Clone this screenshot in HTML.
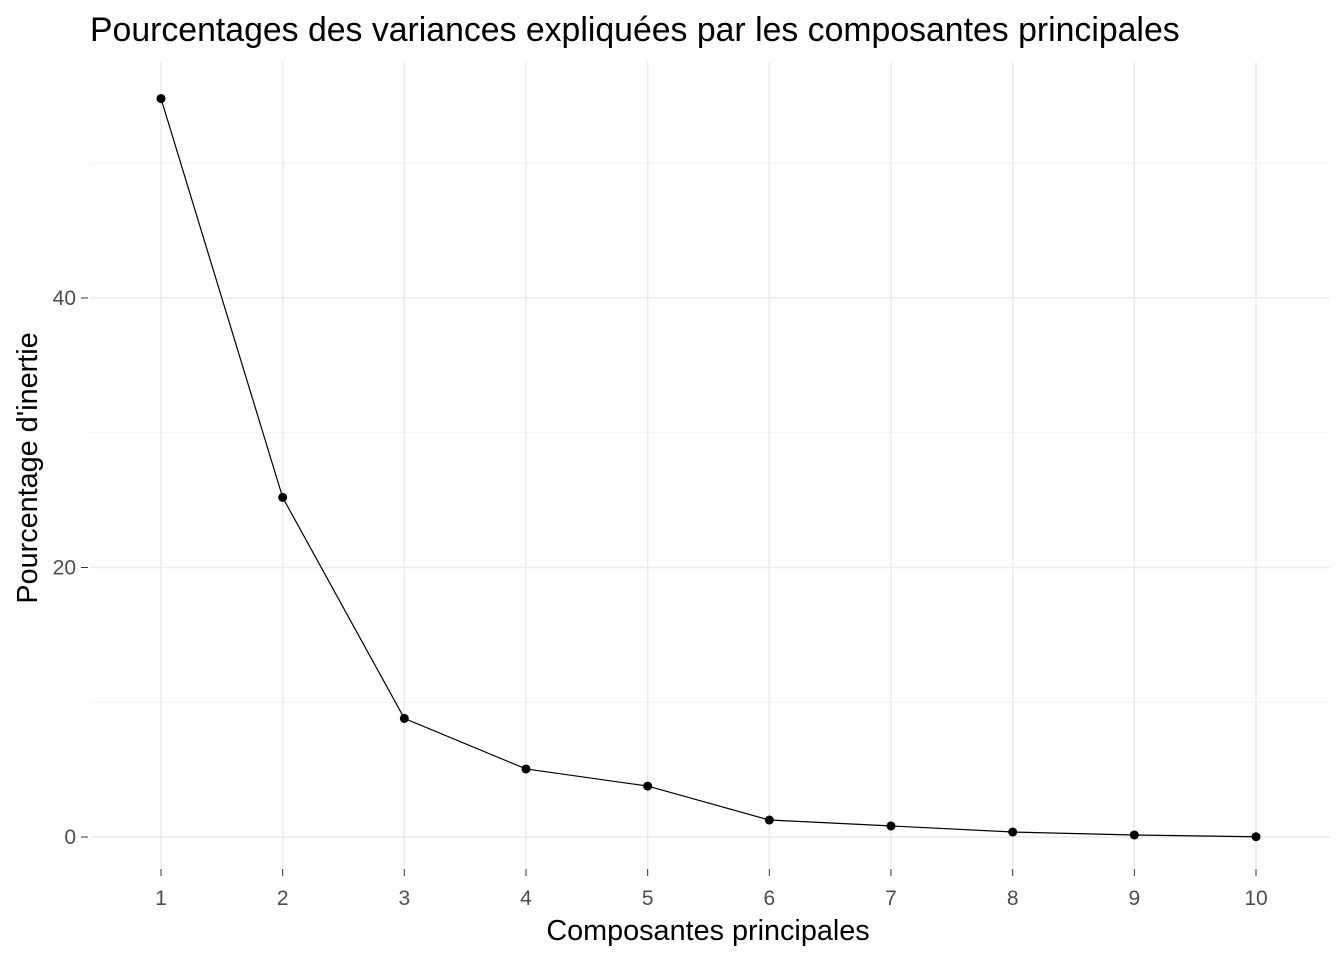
<!DOCTYPE html>
<html><head><meta charset="utf-8"><style>
html,body{margin:0;padding:0;background:#fff}
svg{display:block;font-family:"Liberation Sans",Arial,sans-serif}
</style></head><body>
<svg id="chart" width="1344" height="960">
<text x="90" y="41" font-size="33.8" fill="#000">Pourcentages des variances expliquées par les composantes principales</text>
<g id="grid"></g><g id="axes"></g><g id="series"></g>
<text x="708" y="940" font-size="28.8" text-anchor="middle" fill="#000">Composantes principales</text>
<text transform="translate(37,468) rotate(-90)" font-size="28.8" text-anchor="middle" fill="#000">Pourcentage d'inertie</text>
</svg>
<script>
const components = [1,2,3,4,5,6,7,8,9,10];
const variances = [54.8,25.2,8.8,5.05,3.78,1.26,0.82,0.37,0.15,0.02];
const yTicks = [0,20,40];
const yMinor = [10,30,50];
const NS='http://www.w3.org/2000/svg';
const L=90,R=1330,T=62,B=867;
function xs(v){return 161+(v-1)*(1256-161)/9;}
function ys(v){return 837-v*(837-298)/40;}
function mk(tag,attrs,parent){const e=document.createElementNS(NS,tag);for(const k in attrs)e.setAttribute(k,attrs[k]);parent.appendChild(e);return e;}
const grid=document.getElementById('grid'),axes=document.getElementById('axes'),series=document.getElementById('series');
yMinor.forEach(v=>{const l=mk('line',{x1:L,x2:R,y1:ys(v),y2:ys(v),stroke:'#f2f2f2','stroke-width':1},grid);

});
yTicks.forEach(v=>{const l=mk('line',{x1:L,x2:R,y1:ys(v),y2:ys(v),stroke:'#ebebeb','stroke-width':1.5},grid);


const t=mk('line',{x1:81,x2:88,y1:ys(v),y2:ys(v),stroke:'#333','stroke-width':1},axes);


const tx=mk('text',{x:76,y:ys(v)+7,'font-size':21,'text-anchor':'end',fill:'#4d4d4d'},axes);tx.textContent=v;

});
components.forEach(c=>{const l=mk('line',{x1:xs(c),x2:xs(c),y1:T,y2:B,stroke:'#ebebeb','stroke-width':1.5},grid);


const t=mk('line',{x1:xs(c),x2:xs(c),y1:869,y2:876,stroke:'#333','stroke-width':1},axes);


const tx=mk('text',{x:xs(c),y:905,'font-size':21,'text-anchor':'middle',fill:'#4d4d4d'},axes);tx.textContent=c;

});
const pl=mk('polyline',{points:components.map((c,i)=>xs(c)+','+ys(variances[i])).join(' '),fill:'none',stroke:'#000','stroke-width':1.2},series);


components.forEach((c,i)=>{const p=mk('circle',{cx:xs(c),cy:ys(variances[i]),r:4.5,fill:'#000'},series);

});
</script>
</body></html>
